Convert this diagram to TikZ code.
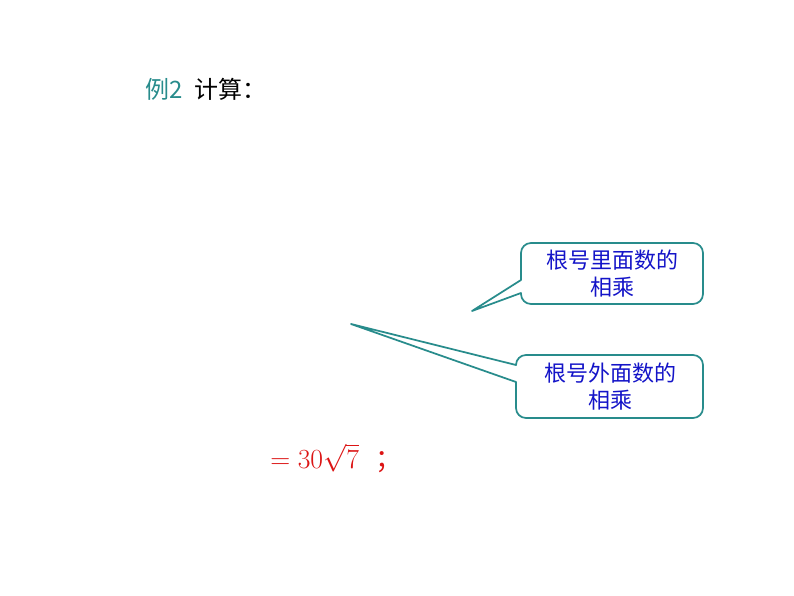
\documentclass[tikz,border=0pt]{standalone}
\usepackage{fontspec}
\newfontfamily\cjk{Noto Sans CJK SC}
\definecolor{tealc}{RGB}{40,140,140}
\definecolor{bluec}{RGB}{20,20,200}
\definecolor{redc}{RGB}{220,20,20}
\begin{document}
\begin{tikzpicture}[x=0.75pt,y=-0.75pt,
  callout/.style={draw=tealc,line width=1.3pt,fill=white,line join=round},
  ctext/.style={text=bluec,font=\cjk\fontsize{16.5}{20}\selectfont,align=center,inner sep=0}]
\useasboundingbox (0,0) rectangle (794,596);
\fill[white] (0,0) rectangle (794,596);
\node[anchor=west,inner sep=0] (title) at (145,89) {\cjk\fontsize{18}{20}\selectfont\textcolor{tealc}{例2}\hspace{0.5em}计算：};
\draw[callout] (521,293) -- (472,311) -- (521,280) -- (521,253) arc[start angle=180,end angle=270,radius=10] -- (693,243) arc[start angle=270,end angle=360,radius=10] -- (703,294) arc[start angle=0,end angle=90,radius=10] -- (531,304) arc[start angle=90,end angle=180,radius=10] -- cycle;
\node[ctext] (c1) at (612,273.5) {根号里面数的\\相乘};
\draw[callout] (516,382) -- (351,324) -- (516,365) arc[start angle=180,end angle=270,radius=10] -- (693,355) arc[start angle=270,end angle=360,radius=10] -- (703,408) arc[start angle=0,end angle=90,radius=10] -- (526,418) arc[start angle=90,end angle=180,radius=10] -- cycle;
\node[ctext] (c2) at (610,386.5) {根号外面数的\\相乘};
\node[anchor=west,inner sep=0,text=redc] (res) at (270,458) {\fontsize{20}{22}\selectfont$=30\sqrt{7}$\ \ \cjk ；};
\end{tikzpicture}
\end{document}
